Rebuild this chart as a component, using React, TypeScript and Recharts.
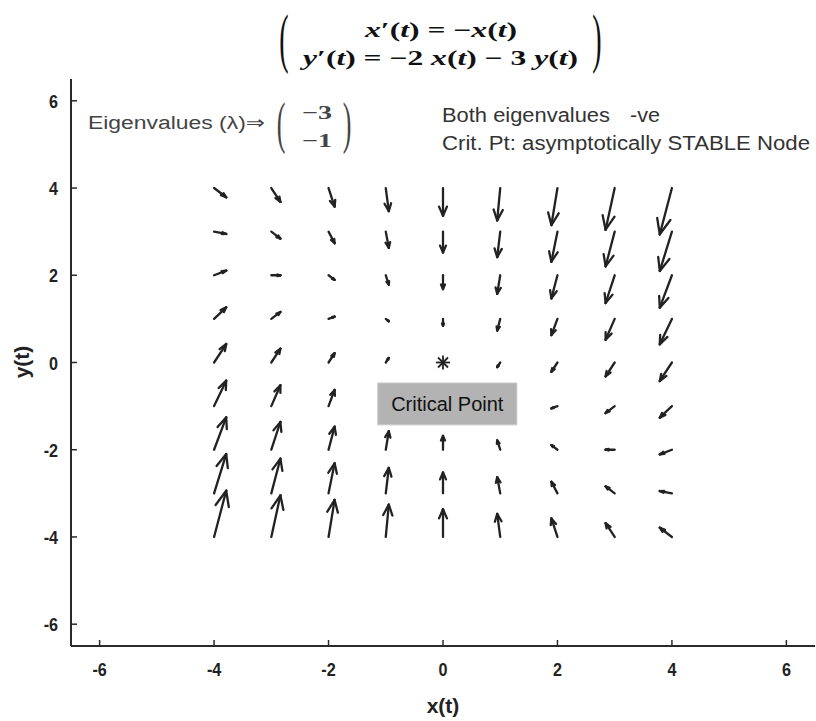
import React from "react";
import {
  ScatterChart,
  Scatter,
  XAxis,
  YAxis,
  ReferenceLine,
  ReferenceArea,
  Label,
} from "recharts";

// Grid of arrow tails
const X_GRID = [-4, -3, -2, -1, 0, 1, 2, 3, 4];
const Y_GRID = [4, 3, 2, 1, 0, -1, -2, -3, -4];

// Horizontal components x'(t) read per row (rows follow Y_GRID, columns follow X_GRID)
const U_ROWS = [
  [4, 3, 2, 1, 0, -1, -2, -3, -4],
  [4, 3, 2, 1, 0, -1, -2, -3, -4],
  [4, 3, 2, 1, 0, -1, -2, -3, -4],
  [4, 3, 2, 1, 0, -1, -2, -3, -4],
  [4, 3, 2, 1, 0, -1, -2, -3, -4],
  [4, 3, 2, 1, 0, -1, -2, -3, -4],
  [4, 3, 2, 1, 0, -1, -2, -3, -4],
  [4, 3, 2, 1, 0, -1, -2, -3, -4],
  [4, 3, 2, 1, 0, -1, -2, -3, -4],
];

// Vertical components y'(t)
const V_ROWS = [
  [-4, -6, -8, -10, -12, -14, -16, -18, -20],
  [-1, -3, -5, -7, -9, -11, -13, -15, -17],
  [2, 0, -2, -4, -6, -8, -10, -12, -14],
  [5, 3, 1, -1, -3, -5, -7, -9, -11],
  [8, 6, 4, 2, 0, -2, -4, -6, -8],
  [11, 9, 7, 5, 3, 1, -1, -3, -5],
  [14, 12, 10, 8, 6, 4, 2, 0, -2],
  [17, 15, 13, 11, 9, 7, 5, 3, 1],
  [20, 18, 16, 14, 12, 10, 8, 6, 4],
];

const CRITICAL_POINT = [{ x: 0, y: 0 }];
const AXIS_TICKS = [-6, -4, -2, 0, 2, 4, 6];
const DOMAIN: [number, number] = [-6.5, 6.5];

// quiver display settings
const SCALE = 0.053;
const ALPHA = 0.33;
const BETA = 0.33;

type Seg = { key: string; a: { x: number; y: number }; b: { x: number; y: number } };

function buildSegments(): Seg[] {
  const segs: Seg[] = [];
  Y_GRID.forEach((y, i) => {
    X_GRID.forEach((x, j) => {
      const u = U_ROWS[i][j] * SCALE;
      const v = V_ROWS[i][j] * SCALE;
      if (u === 0 && v === 0) return;
      const tip = { x: x + u, y: y + v };
      const b1 = { x: x + u - ALPHA * (u + BETA * v), y: y + v - ALPHA * (v - BETA * u) };
      const b2 = { x: x + u - ALPHA * (u - BETA * v), y: y + v - ALPHA * (v + BETA * u) };
      segs.push({ key: `s${i}-${j}`, a: { x, y }, b: tip });
      segs.push({ key: `h1${i}-${j}`, a: b1, b: tip });
      segs.push({ key: `h2${i}-${j}`, a: b2, b: tip });
    });
  });
  return segs;
}

const SANS = "'Liberation Sans', Arial, Helvetica, 'DejaVu Sans', sans-serif";
const SERIF = "'Liberation Serif', 'Times New Roman', 'DejaVu Serif', serif";
const AXIS_COLOR = "#2a2a2a";
const ARROW_COLOR = "#222";

const XTick = (props: any) => {
  const { x, y, payload } = props;
  return (
    <g>
      <line x1={x} x2={x} y1={y} y2={y - 6} stroke={AXIS_COLOR} strokeWidth={1.5} />
      <g transform={`translate(${x},${y + 30}) scale(0.85,1)`}>
        <text x={0} y={0} textAnchor="middle" fontFamily={SANS} fontWeight="bold" fontSize={19} fill="#222">
          {String(payload.value)}
        </text>
      </g>
    </g>
  );
};

const YTick = (props: any) => {
  const { x, y, payload } = props;
  return (
    <g>
      <line x1={x} x2={x + 6} y1={y} y2={y} stroke={AXIS_COLOR} strokeWidth={1.5} />
      <g transform={`translate(${x - 13},${y + 7}) scale(0.85,1)`}>
        <text x={0} y={0} textAnchor="end" fontFamily={SANS} fontWeight="bold" fontSize={19} fill="#222">
          {String(payload.value)}
        </text>
      </g>
    </g>
  );
};

const Asterisk = (props: any) => {
  const { cx, cy } = props;
  if (cx == null || cy == null) return null;
  const r = 7;
  const d = 5;
  return (
    <g stroke="#222" strokeWidth={1.8}>
      <line x1={cx - r} x2={cx + r} y1={cy} y2={cy} />
      <line x1={cx} x2={cx} y1={cy - r} y2={cy + r} />
      <line x1={cx - d} x2={cx + d} y1={cy - d} y2={cy + d} />
      <line x1={cx - d} x2={cx + d} y1={cy + d} y2={cy - d} />
    </g>
  );
};

// a tall, thin delimiter made from a stretched text glyph
const Delim = ({ ch, x, y, size, sy, fill }: any) => (
  <g transform={`translate(${x},${y}) scale(1,${sy})`}>
    <text x={0} y={0} textAnchor="middle" fontFamily={SERIF} fontSize={size} fill={fill}>
      {ch}
    </text>
  </g>
);

const Overlay = () => (
  <svg
    width={816}
    height={721}
    style={{ position: "absolute", left: 0, top: 0, pointerEvents: "none" }}
  >
    {/* title matrix */}
    <Delim ch="(" x={284} y={60.4} size={28} sy={2.336} fill="#111" />
    <Delim ch=")" x={597} y={60.4} size={28} sy={2.336} fill="#111" />
    <text x={365} y={37} fontFamily={SERIF} fontWeight="bold" fontSize={21} fill="#111" textLength={152} lengthAdjust="spacingAndGlyphs">
      <tspan fontStyle="italic">x</tspan>′(<tspan fontStyle="italic">t</tspan>) = −<tspan fontStyle="italic">x</tspan>(<tspan fontStyle="italic">t</tspan>)
    </text>
    <text x={303} y={65} fontFamily={SERIF} fontWeight="bold" fontSize={21} fill="#111" textLength={275} lengthAdjust="spacingAndGlyphs">
      <tspan fontStyle="italic">y</tspan>′(<tspan fontStyle="italic">t</tspan>) = −2 <tspan fontStyle="italic">x</tspan>(<tspan fontStyle="italic">t</tspan>) − 3 <tspan fontStyle="italic">y</tspan>(<tspan fontStyle="italic">t</tspan>)
    </text>

    {/* eigenvalues */}
    <text x={88} y={129} fontFamily={SANS} fontSize={18} fill="#444" textLength={177} lengthAdjust="spacingAndGlyphs">
      Eigenvalues (λ)⇒
    </text>
    <Delim ch="(" x={281} y={141.9} size={26} sy={2.2} fill="#444" />
    <Delim ch=")" x={347} y={141.9} size={26} sy={2.2} fill="#444" />
    <text x={317} y={119} textAnchor="middle" fontFamily={SERIF} fontWeight="bold" fontSize={19} fill="#444" textLength={30} lengthAdjust="spacingAndGlyphs">−3</text>
    <text x={317} y={147} textAnchor="middle" fontFamily={SERIF} fontWeight="bold" fontSize={19} fill="#444" textLength={30} lengthAdjust="spacingAndGlyphs">−1</text>

    {/* right annotation */}
    <text x={442} y={122} fontFamily={SANS} fontSize={20} fill="#333" textLength={168} lengthAdjust="spacingAndGlyphs">
      Both eigenvalues
    </text>
    <text x={630} y={122} fontFamily={SANS} fontSize={20} fill="#333" textLength={30} lengthAdjust="spacingAndGlyphs">
      -ve
    </text>
    <text x={442} y={150} fontFamily={SANS} fontSize={20} fill="#333" textLength={368} lengthAdjust="spacingAndGlyphs">
      Crit. Pt: asymptotically STABLE Node
    </text>

    {/* axis labels */}
    <text x={443} y={713} textAnchor="middle" fontFamily={SANS} fontWeight="bold" fontSize={21} fill="#222">
      x(t)
    </text>
    <g transform="translate(29,362) rotate(-90)">
      <text x={0} y={0} textAnchor="middle" fontFamily={SANS} fontWeight="bold" fontSize={21} fill="#222">
        y(t)
      </text>
    </g>
  </svg>
);

export default function App() {
  const segs = buildSegments();
  return (
    <div style={{ position: "absolute", left: 0, top: 0, width: 816, height: 721, background: "#fff" }}>
      <ScatterChart width={816} height={721} margin={{ top: 79, right: 1, bottom: 0, left: 0 }}>
        <XAxis
          type="number"
          dataKey="x"
          domain={DOMAIN}
          ticks={AXIS_TICKS}
          allowDataOverflow
          height={75}
          tickSize={0}
          tickMargin={0}
          tickLine={false}
          tick={<XTick />}
          axisLine={{ stroke: AXIS_COLOR, strokeWidth: 2 }}
        />
        <YAxis
          type="number"
          dataKey="y"
          domain={DOMAIN}
          ticks={AXIS_TICKS}
          allowDataOverflow
          width={71}
          tickSize={0}
          tickMargin={0}
          tickLine={false}
          tick={<YTick />}
          axisLine={{ stroke: AXIS_COLOR, strokeWidth: 2 }}
        />
        {segs.map((s) => (
          <ReferenceLine
            key={s.key}
            segment={[s.a, s.b]}
            stroke={ARROW_COLOR}
            strokeWidth={2.3}
            strokeLinecap="round"
            ifOverflow="visible"
          />
        ))}
        <Scatter
          data={CRITICAL_POINT}
          isAnimationActive={false}
          shape={(p: any) => <Asterisk {...p} />}
        />
        <ReferenceArea
          x1={-1.14}
          x2={1.29}
          y1={-1.43}
          y2={-0.47}
          fill="#b3b3b3"
          fillOpacity={1}
          stroke="#c8c8c8"
          strokeWidth={1}
          ifOverflow="visible"
          {...({ zIndex: 1500 } as any)}
        >
          <Label value="Critical Point" position="center" fontFamily={SANS} fontSize={20} fill="#111" />
        </ReferenceArea>
      </ScatterChart>
      <Overlay />
    </div>
  );
}
